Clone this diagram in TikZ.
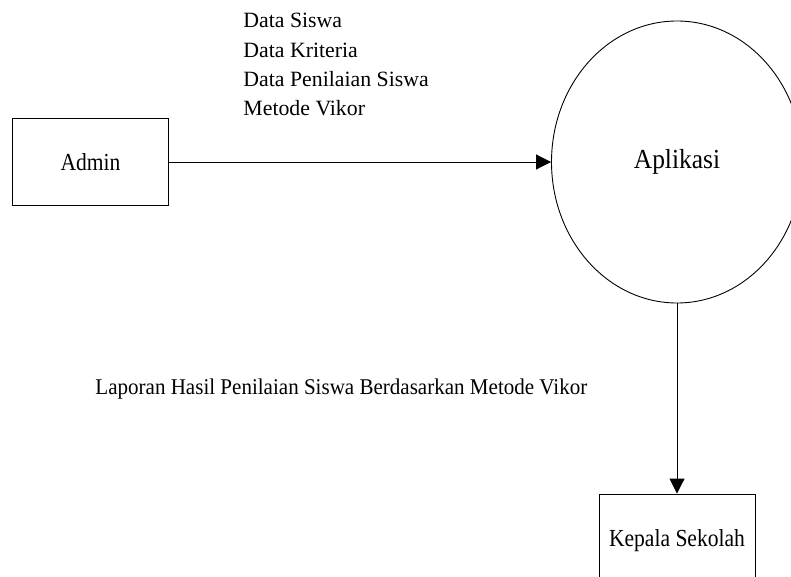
\documentclass[tikz,border=0pt]{standalone}
\usepackage{graphicx}
\usepackage{fontspec}
\setmainfont{Liberation Serif}
\usetikzlibrary{arrows.meta,shapes.geometric}
% narrowed serif text, as the chart's labels are set slightly condensed
\newcommand{\narrow}[2]{\scalebox{#1}[1]{#2}}
\begin{document}
\begin{tikzpicture}[x=1pt,y=-1pt,
  line width=0.9pt,
  entity/.style={draw, rectangle, inner sep=0pt, font=\fontsize{24.5}{28}\selectfont},
  process/.style={draw, ellipse, inner sep=0pt, minimum width=251pt, minimum height=282pt,
                  font=\fontsize{27.5}{32}\selectfont},
  flow/.style={-{Triangle[length=15pt,width=15pt]}},
  lbl/.style={inner sep=0pt, anchor=base west, font=\fontsize{21.8}{26}\selectfont}]
\useasboundingbox (0,0) rectangle (791,577);
\clip (0,0) rectangle (791,577);

% external entities and the process
\node[entity, minimum width=155.6pt, minimum height=87.7pt] (admin) at (90.5,162)
  {\narrow{0.88}{Admin}};
\node[process] (app) at (677,162) {\narrow{0.925}{Aplikasi}};
\node[entity, minimum width=156pt, minimum height=92.6pt] (kepala) at (677,540.3)
  {\narrow{0.88}{Kepala Sekolah}};

% data flows
\draw[flow] (admin.east) -- (app.west);
\draw[flow] (app.south) -- (kepala.north);

% flow labels
\node[lbl] (in1) at (243,28) {Data Siswa};
\node[lbl] (in2) at (243,57.3) {Data Kriteria};
\node[lbl] (in3) at (243,86.6) {Data Penilaian Siswa};
\node[lbl] (in4) at (243,116) {Metode Vikor};
\node[lbl, font=\fontsize{22.5}{26}\selectfont] (out) at (95,394)
  {\narrow{0.935}{Laporan Hasil Penilaian Siswa Berdasarkan Metode Vikor}};
\end{tikzpicture}
\end{document}
